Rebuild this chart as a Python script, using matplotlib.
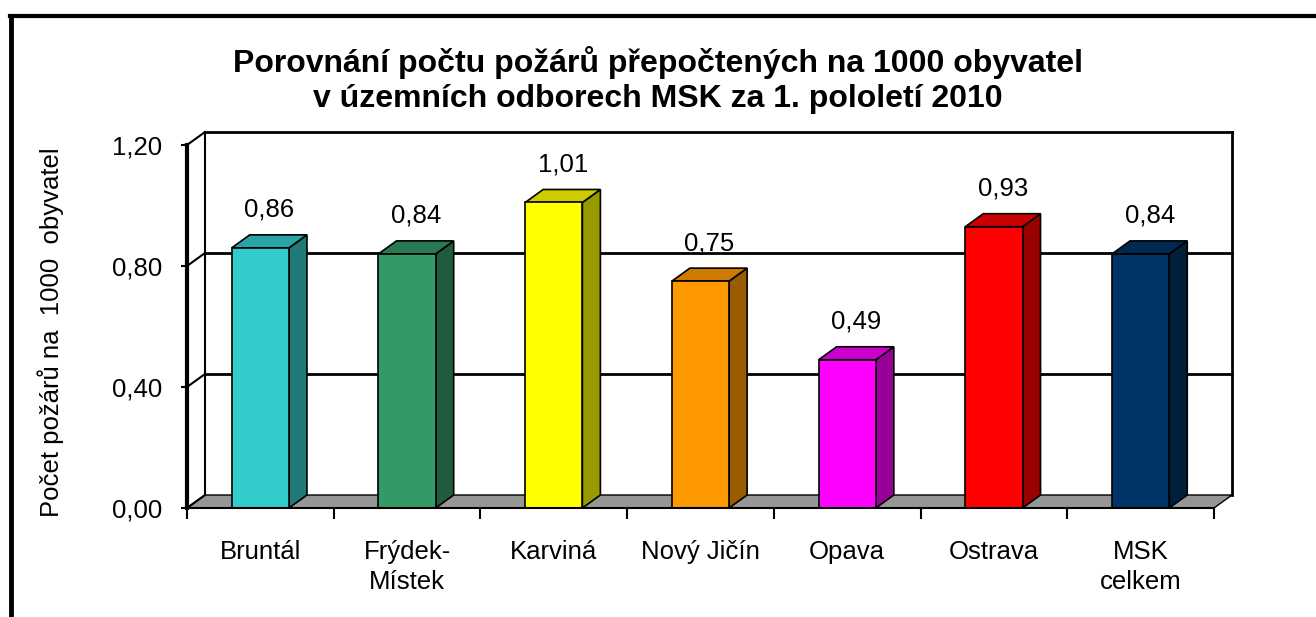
import numpy as np
import matplotlib
matplotlib.use("Agg")
import matplotlib.pyplot as plt
from matplotlib.patches import Polygon, Rectangle
from matplotlib.colors import to_rgb
from matplotlib.lines import Line2D

plt.rcParams["font.family"] = ["Liberation Sans", "DejaVu Sans"]

categories = ["Bruntál", "Frýdek-\nMístek", "Karviná", "Nový Jičín", "Opava", "Ostrava", "MSK\ncelkem"]
values = [0.86, 0.84, 1.01, 0.75, 0.49, 0.93, 0.84]
value_labels = ["0,86", "0,84", "1,01", "0,75", "0,49", "0,93", "0,84"]
bar_colors = ["#33CCCC", "#339966", "#FFFF00", "#FF9900", "#FF00FF", "#FF0000", "#003366"]
y_ticks = [0.0, 0.4, 0.8, 1.2]
y_tick_labels = ["0,00", "0,40", "0,80", "1,20"]

title = "Porovnání počtu požárů přepočtených na 1000 obyvatel\nv územních odborech MSK za 1. pololetí 2010"
ylabel = "Počet požárů na  1000  obyvatel"

W, H = 1316, 617
fig = plt.figure(figsize=(W / 100, H / 100), dpi=100)
fig.patch.set_facecolor("white")

# front plane of the 3d box
x0, x1, yb, yt = 187, 1214, 508, 145
ax = fig.add_axes([x0 / W, 1 - yb / H, (x1 - x0) / W, (yb - yt) / H])
n = len(values)
ax.set_xlim(0, n)
ax.set_ylim(0, 1.2)
ax.patch.set_alpha(0)
for s in ax.spines.values():
    s.set_visible(False)

# depth offset in data units
ddx = 18 / ((x1 - x0) / n)
ddy = 13 / ((yb - yt) / 1.2)
bw = 0.39

# floor
floor = Polygon([(0, 0), (n, 0), (n + ddx, ddy), (ddx, ddy)], closed=True,
                facecolor="#969696", edgecolor="black", lw=1, clip_on=False, zorder=1)
ax.add_patch(floor)

# back wall
ax.plot([ddx, ddx], [ddy, 1.2 + ddy], color="black", lw=1.5, clip_on=False, zorder=1)
ax.plot([n + ddx, n + ddx], [ddy, 1.2 + ddy], color="black", lw=2, clip_on=False, zorder=1)
for v in y_ticks[1:]:
    ax.plot([ddx, n + ddx], [v + ddy, v + ddy], color="black", lw=2, clip_on=False, zorder=1)
for v in y_ticks:
    ax.plot([0, ddx], [v, v + ddy], color="black", lw=1.5, clip_on=False, zorder=1)

# front axes
ax.plot([0, 0], [0, 1.2], color="black", lw=3, clip_on=False, zorder=5)
ax.plot([0, n], [0, 0], color="black", lw=1.5, clip_on=False, zorder=5)

# bars
for i, (v, c) in enumerate(zip(values, bar_colors)):
    rgb = np.array(to_rgb(c))
    left = i + 0.5 - bw / 2
    right = left + bw
    front = Rectangle((left, 0), bw, v, facecolor=c, edgecolor="black", lw=1.2,
                      clip_on=False, zorder=3)
    side = Polygon([(right, 0), (right + ddx, ddy), (right + ddx, v + ddy), (right, v)],
                   closed=True, facecolor=rgb * 0.6, edgecolor="black", lw=1.2,
                   clip_on=False, zorder=3)
    top = Polygon([(left, v), (right, v), (right + ddx, v + ddy), (left + ddx, v + ddy)],
                  closed=True, facecolor=rgb * 0.8, edgecolor="black", lw=1.2,
                  clip_on=False, zorder=3)
    ax.add_patch(side)
    ax.add_patch(top)
    ax.add_patch(front)
    ax.annotate(value_labels[i], xy=(i + 0.5 + ddx / 2, v + ddy), xytext=(0, 18),
                textcoords="offset points", ha="center", va="center", fontsize=18.5)

# ticks
ax.set_yticks(y_ticks)
ax.set_yticklabels(y_tick_labels, fontsize=18.5)
ax.tick_params(axis="y", direction="out", length=4, width=1.5, pad=14)
ax.set_xticks(np.arange(n + 1))
ax.set_xticklabels([])
ax.tick_params(axis="x", which="major", direction="out", length=8, width=1.5)
ax.set_xticks(np.arange(n) + 0.5, minor=True)
ax.set_xticklabels(categories, minor=True, fontsize=18.5, linespacing=1.3)
ax.tick_params(axis="x", which="minor", length=0, pad=23)

ax.set_ylabel(ylabel, fontsize=18.5)
ax.yaxis.set_label_coords((64 - x0) / (x1 - x0), (yb - 332) / (yb - yt))

fig.text(658 / W, 1 - 80 / H, title, ha="center", va="center", fontsize=23,
         fontweight="bold", linespacing=1.22)

# outer frame (top and left visible)
fig.add_artist(Line2D([10 / W, 1], [1 - 16 / H, 1 - 16 / H], color="black", lw=3,
                      transform=fig.transFigure))
fig.add_artist(Line2D([11 / W, 11 / W], [0, 1 - 16 / H], color="black", lw=3.5,
                      transform=fig.transFigure))

fig.savefig("out.png", dpi=100)
